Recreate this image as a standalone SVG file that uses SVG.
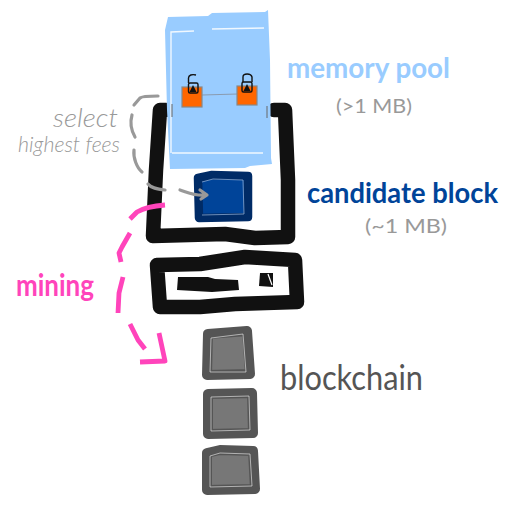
<svg xmlns="http://www.w3.org/2000/svg" width="510" height="510" viewBox="0 0 510 510">
<style>
.ink{fill:none;stroke-linecap:round;stroke-linejoin:round}
.frame{stroke:#111;stroke-width:14.5}
.gray{stroke:#999;stroke-width:3.2}
.pink{stroke:#ff44bb;stroke-width:4.8;stroke-linecap:butt}
.hi{fill:none;stroke:#fff;stroke-width:1;stroke-opacity:.55}
.block{fill:#777;stroke:#555;stroke-width:10;stroke-linejoin:round}
.lock{fill:none;stroke:#111;stroke-width:1.4}
text{font-family:"Lato","Liberation Sans",sans-serif}
.note{fill:#999}
</style>
<rect width="510" height="510" fill="#fff"/>
<g id="candidate-frame">
<path class="ink frame" d="M166 110H160L156 170L153 236L225 234L255 238L288 237L288 180L285 110H274"/>
</g>
<g id="memory-pool">
<path d="M168 17L208 16L212 13L265 12L268 10L270 60L271 158L272 164L250 166L245 168L170 169L167 110L165 30Z" fill="#99ccff"/>
<path d="M171 153V32L194 31M212 29L264 28M172 153L263 153" fill="none" stroke="#fff" stroke-width="1.4" stroke-opacity=".85"/>
<path d="M172 104V117M267 106V118" stroke="#666" stroke-width="1" fill="none"/>
</g>
<g id="tx-link">
<path d="M202 95L238 94" stroke="#8a9bb0" stroke-width="1.2" fill="none"/>
</g>
<g id="tx-left">
<rect x="182" y="87" width="20" height="20" fill="#ff6600" stroke="#888" stroke-width="1.2"/>
<rect x="188.500" y="83" width="9.500" height="10" rx="1.5" fill="none" stroke="#111" stroke-width="1.4"/>
<path class="lock" d="M188.500 83V78C188.500 75 192 74 196 75"/>
<path d="M193 85L196.500 92H189.500Z" fill="#111"/>
</g>
<g id="tx-right">
<rect x="237" y="86" width="20" height="19" fill="#ff6600" stroke="#888" stroke-width="1.2"/>
<rect x="242" y="82" width="10" height="10" rx="1.5" fill="none" stroke="#111" stroke-width="1.4"/>
<path class="lock" d="M243 82V77C243 73 251 73 252 77V82"/>
<path d="M247 84L250.500 91H243.500Z" fill="#111"/>
</g>
<g id="candidate-block">
<path d="M198 178L212 175L248 176L248 217L199 218Z" fill="#004499" stroke="#002b66" stroke-width="8.500" stroke-linejoin="round"/>
<path d="M202 182L213 179L243 180L244 214L202 215" fill="none" stroke="#9db8dc" stroke-width="1" stroke-opacity=".7"/>
</g>
<g id="miner">
<path class="ink frame" d="M157 265L200 264L245 257L295 260L297 302L235 304L200 307L160 307L157 265" stroke-width="14.500"/>
<path d="M178 277L208 277L215 279L238 280L239 290L212 292L177 290Z" fill="#111"/>
<path d="M260 273L273 273L273 287L259 286Z" fill="#111"/>
<path d="M268 274L272 285" stroke="#fff" stroke-width="1.2" fill="none"/>
</g>
<g id="connectors">
<path class="ink gray" d="M158 96C150 96 142 96 140 98L134 105M132 115C130 122 131 130 135 137M134 150C133 158 137 168 142 172"/>
<path class="ink gray" d="M148 184C151 188 157 189 165 190M180 190C187 192 194 196 205 195M200 190L207 195L201 199"/>
<path class="ink pink" d="M165 205C152 206 144 208 137 212L130 219M130 233L122 247L119 253L121 262M123 277L119 293L118 313M130 324L138 340L145 349M159 333L165 361L140 362"/>
</g>
<g id="block-1">
<path class="block" d="M208 334L247 331L250 374L207 375Z"/>
<path class="hi" d="M211 338L243 334L246 372L210 372Z"/>
</g>
<g id="block-2">
<path class="block" d="M208 394L252 393L253 433L208 434Z"/>
<path class="hi" d="M211 397L249 396L250 430L211 431Z"/>
</g>
<g id="block-3">
<path class="block" d="M207 453L220 450L253 451L255 489L207 490Z"/>
<path class="hi" d="M210 456L220 453L250 454L252 486L210 487Z"/>
</g>
<text x="287" y="78" font-size="29" font-weight="700" fill="#99ccff" textLength="163" lengthAdjust="spacingAndGlyphs">memory pool</text>
<text x="336" y="113" font-size="20" class="note" textLength="76" lengthAdjust="spacingAndGlyphs">(&gt;1 MB)</text>
<text x="307" y="203" font-size="28" font-weight="700" fill="#004499" textLength="191" lengthAdjust="spacingAndGlyphs">candidate block</text>
<text x="365" y="233" font-size="20" class="note" textLength="82" lengthAdjust="spacingAndGlyphs">(~1 MB)</text>
<text x="53" y="127" font-size="26" font-style="italic" font-weight="300" fill="#999" textLength="65" lengthAdjust="spacingAndGlyphs">select</text>
<text x="18" y="152" font-size="22" font-style="italic" font-weight="300" fill="#999" textLength="102" lengthAdjust="spacingAndGlyphs">highest fees</text>
<text x="16" y="296" font-size="30" font-weight="700" fill="#ff44bb" textLength="78" lengthAdjust="spacingAndGlyphs">mining</text>
<text x="280" y="390" font-size="34" fill="#555" textLength="143" lengthAdjust="spacingAndGlyphs">blockchain</text>
</svg>
